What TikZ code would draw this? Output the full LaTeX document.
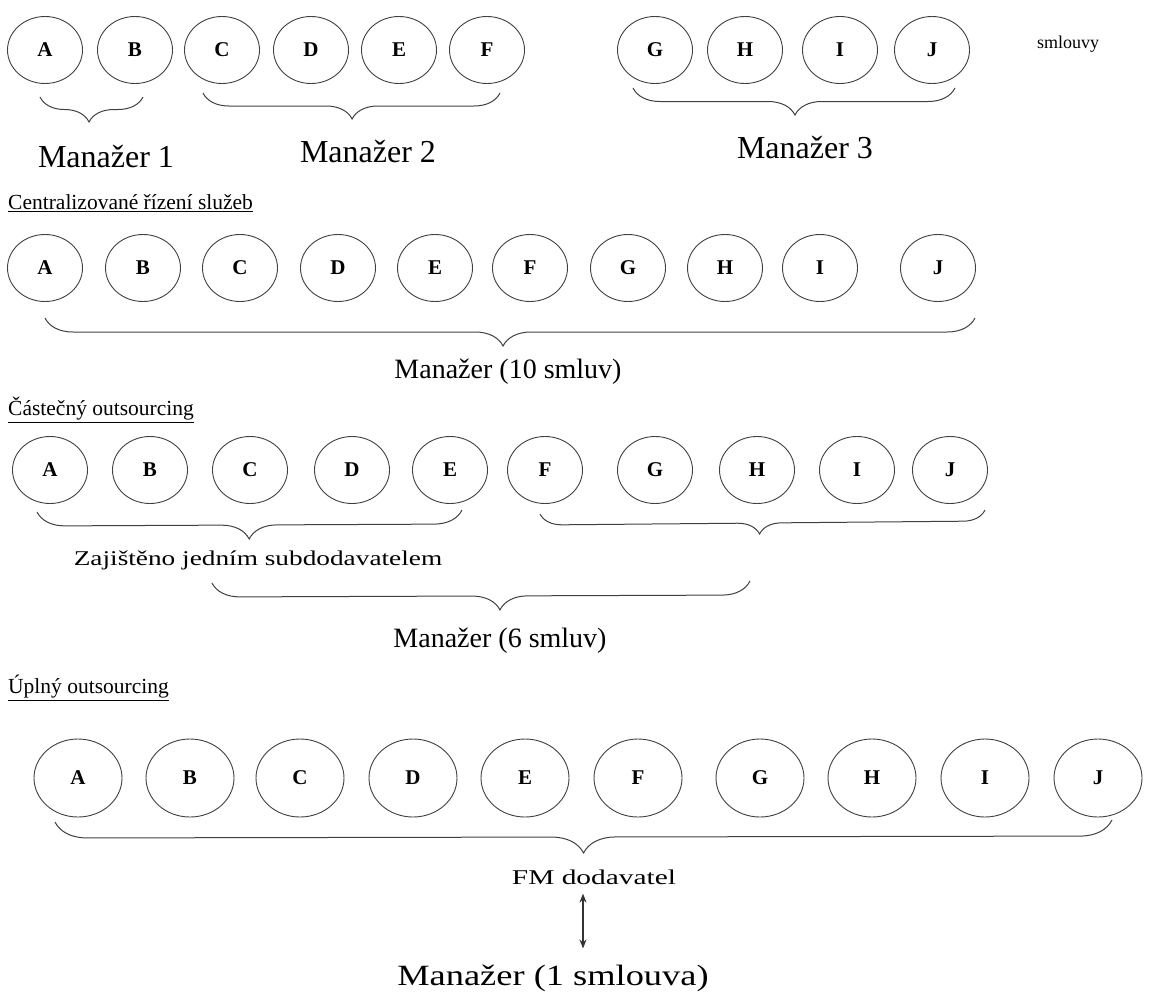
\documentclass[tikz,border=0pt]{standalone}
\usepackage{fontspec}
\setmainfont{Liberation Serif}
\usetikzlibrary{shapes.geometric,decorations.pathreplacing,arrows.meta}
\begin{document}
\begin{tikzpicture}[x=1pt,y=-1pt,
  svc/.style={ellipse,draw=black!75,line width=0.9pt,minimum width=75pt,minimum height=67pt,
    inner sep=0pt,font=\fontsize{21}{21}\selectfont\bfseries},
  bigsvc/.style={svc,minimum width=88pt,minimum height=78pt},
  grp/.style n args={2}{decorate,decoration={brace,mirror,amplitude=#1,aspect=#2},
    draw=black!75,line width=1pt},
  mgr/.style={font=\fontsize{28}{28}\selectfont,inner sep=0pt},
  mgrtop/.style={font=\fontsize{32}{32}\selectfont,inner sep=0pt},
  head/.style={font=\fontsize{21.5}{21.5}\selectfont,anchor=west,inner sep=0pt},
  small/.style={font=\fontsize{21}{21}\selectfont,inner sep=0pt}
]
\path[use as bounding box] (0,0) rectangle (1151,999);

% --- Decentralised management: three managers
\foreach \n/\x in {A/45,B/135,C/222,D/311,E/399,F/487,G/655,H/745,I/840,J/932}
  \node[svc] (r1\n) at (\x,50) {\n};
\node[small,font=\fontsize{18}{18}\selectfont] (smlouvy) at (1068,44) {smlouvy};
\coordinate (b1a) at (40,97);   \coordinate (b1b) at (143,97);
\coordinate (b2a) at (203,93);  \coordinate (b2b) at (500,93);
\coordinate (b3a) at (633,88);  \coordinate (b3b) at (955,88);
\draw[grp={25pt}{0.476}] (b1a) -- (b1b);
\draw[grp={26pt}{0.502}] (b2a) -- (b2b);
\draw[grp={27pt}{0.503}] (b3a) -- (b3b);
\node[mgrtop] (m1) at (106,157) {Manažer 1};
\node[mgrtop] (m2) at (368,152) {Manažer 2};
\node[mgrtop] (m3) at (805,148) {Manažer 3};

% --- Centralised management
\node[head] (h2) at (8,203) {\underline{Centralizované řízení služeb}};
\foreach \n/\x in {A/45,B/143,C/240,D/338,E/435,F/530,G/628,H/725,I/820,J/938}
  \node[svc] (r2\n) at (\x,268) {\n};
\coordinate (c1a) at (45,318);  \coordinate (c1b) at (975,318);
\draw[grp={28pt}{0.4925}] (c1a) -- (c1b);
\node[mgr] (m10) at (508,372) {Manažer (10 smluv)};

% --- Partial outsourcing
\node[head] (h3) at (8,410) {\underline{Částečný outsourcing}};
\foreach \n/\x in {A/50,B/150,C/250,D/352,E/450,F/545,G/655,H/757,I/857,J/950}
  \node[svc] (r3\n) at (\x,470) {\n};
\coordinate (p1a) at (37,512);  \coordinate (p1b) at (462,510);
\coordinate (p2a) at (540,514); \coordinate (p2b) at (985,510);
\coordinate (p3a) at (212,583); \coordinate (p3b) at (750,581);
\draw[grp={28pt}{0.499}] (p1a) -- (p1b);
\draw[grp={22pt}{0.493}] (p2a) -- (p2b);
\node[small] (sub) at (258,560) {\scalebox{1.3}[1]{Zajištěno jedním subdodavatelem}};
\draw[grp={28pt}{0.535}] (p3a) -- (p3b);
\node[mgr] (m6) at (500,641) {Manažer (6 smluv)};

% --- Full outsourcing
\node[head] (h4) at (8,688) {\underline{Úplný outsourcing}};
\foreach \n/\x in {A/78,B/190,C/300,D/413,E/525,F/638,G/760,H/872,I/985,J/1098}
  \node[bigsvc] (r4\n) at (\x,778) {\n};
\coordinate (f1a) at (55,822);  \coordinate (f1b) at (1112,820);
\draw[grp={32pt}{0.5}] (f1a) -- (f1b);
\node[small] (fm) at (594,877) {\scalebox{1.4}[1]{FM dodavatel}};
\node[mgr] (m1s) at (553,978) {\scalebox{1.3}[1.05]{Manažer (1 smlouva)}};
% vertical two-headed link between supplier and manager
\coordinate (linkx) at (583,0);
\draw[black!80,line width=1.1pt,{Stealth[length=9pt,width=7pt]}-{Stealth[length=9pt,width=7pt]}]
  ([yshift=-9pt]fm.south -| linkx) -- ([yshift=16pt]m1s.north -| linkx);
\end{tikzpicture}
\end{document}
